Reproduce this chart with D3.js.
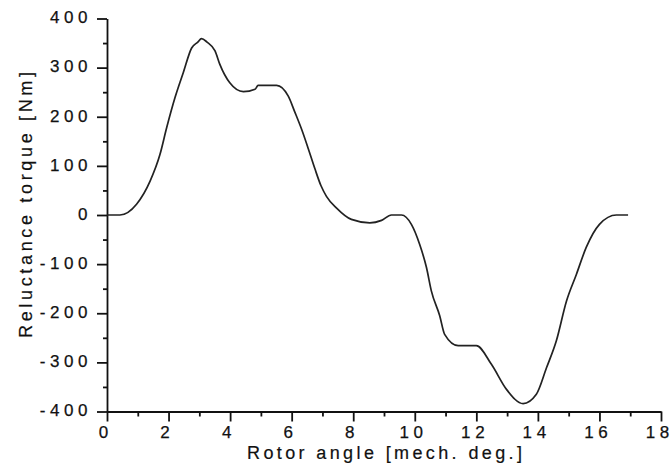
<!DOCTYPE html>
<html>
<head>
<meta charset="utf-8">
<script src="https://cdn.jsdelivr.net/npm/d3@7"></script>
<style>
  body { margin: 0; background: #fff; }
  svg { display: block; }
  text { font-family: "Liberation Sans", Arial, sans-serif; fill: #111; }
</style>
</head>
<body>
<svg id="chart" width="672" height="466"></svg>
<script>
// rotor angle (mech. deg.) and reluctance torque (Nm)
var angle = [0, 0.42, 0.96, 1.40, 1.72, 1.94, 2.21, 2.48, 2.75, 2.95, 3.07, 3.25, 3.51, 3.67, 3.99, 4.43,
             4.81, 4.91, 5.51, 5.89, 6.10, 6.32, 6.54, 6.75, 6.95, 7.13, 7.46, 7.94, 8.54, 8.92,
             9.24, 9.57, 9.89, 10.16, 10.38, 10.54, 10.81, 10.97, 11.41, 12.0, 12.49, 12.98, 13.52,
             13.95, 14.28, 14.60, 14.93, 15.25, 15.57, 16.0, 16.55, 16.93];
var torque = [0, 0, 22, 69, 123, 178, 239, 290, 340, 352, 359, 352, 334, 306, 269, 251,
              256, 264, 264, 242, 210, 175, 135, 95, 60, 38, 14, -9, -16, -11,
              0, 0, -19, -60, -107, -155, -205, -243, -266, -266, -304, -355, -384,
              -365, -311, -256, -175, -121, -66, -19, 0, 0];

var xMajor = [0, 2, 4, 6, 8, 10, 12, 14, 16, 18];
var xMinor = [1, 3, 5, 7, 9, 11, 13, 15, 17];
var yMajor = [-400, -300, -200, -100, 0, 100, 200, 300, 400];
var yMinor = [-350, -250, -150, -50, 50, 150, 250, 350];

var xTitle = "Rotor angle [mech. deg.]";
var yTitle = "Reluctance torque [Nm]";

var svg = d3.select("#chart");

var x = d3.scaleLinear().domain([0, 18]).range([107, 661]);
var y = d3.scaleLinear().domain([-400, 400]).range([411.5, 18.5]);

var LS = 4.6; // gap between the digits of tick labels

// axes
var gx = svg.append("g").attr("transform", "translate(0," + y(-400) + ")");
gx.call(d3.axisBottom(x).tickValues(xMajor).tickSize(10).tickPadding(4.5).tickSizeOuter(0));
var gxm = svg.append("g").attr("transform", "translate(0," + y(-400) + ")");
gxm.call(d3.axisBottom(x).tickValues(xMinor).tickSize(5).tickFormat(""));
gxm.select(".domain").remove();

var gy = svg.append("g").attr("transform", "translate(" + x(0) + ",0)");
gy.call(d3.axisLeft(y).tickValues(yMajor).tickSize(10).tickPadding(9.5).tickSizeOuter(0));
var gym = svg.append("g").attr("transform", "translate(" + x(0) + ",0)");
gym.call(d3.axisLeft(y).tickValues(yMinor).tickSize(4).tickFormat(""));
gym.select(".domain").remove();

svg.selectAll(".domain").attr("stroke", "#111").attr("stroke-width", 1.8);
svg.selectAll(".tick line").attr("stroke", "#111").attr("stroke-width", 1.8);

// spaced-out labels with a plain hyphen, one tspan per character (no trailing gap)
function spaced(sel, shift){
  sel.each(function(d){
    var t = d3.select(this).text("");
    String(d).split("").forEach(function(ch, i){
      t.append("tspan").attr("dx", i ? LS : shift).text(ch);
    });
  });
}
gx.selectAll(".tick text").call(spaced, -4);
gy.selectAll(".tick text").call(spaced, 0).attr("dy", "0.25em");
svg.selectAll(".tick text")
  .attr("font-family", "Liberation Sans, Arial, sans-serif")
  .attr("font-size", 17)
  .attr("fill", "#111")
  .attr("stroke", "#111")
  .attr("stroke-width", 0.25);

// axis titles
svg.append("text")
  .attr("x", 247).attr("y", 458.5)
  .attr("font-size", 18)
  .attr("textLength", 275)
  .attr("lengthAdjust", "spacing")
  .attr("stroke", "#111").attr("stroke-width", 0.2)
  .text(xTitle);

svg.append("text")
  .attr("transform", "translate(31.5,338) rotate(-90)")
  .attr("font-size", 18)
  .attr("textLength", 266)
  .attr("lengthAdjust", "spacing")
  .attr("stroke", "#111").attr("stroke-width", 0.2)
  .text(yTitle);

// curve
var line = d3.line()
  .x(function(d, i){ return x(angle[i]); })
  .y(function(d){ return y(d); })
  .curve(d3.curveMonotoneX);

svg.append("path")
  .attr("d", line(torque))
  .attr("fill", "none")
  .attr("stroke", "#222")
  .attr("stroke-width", 1.7);
</script>
</body>
</html>
